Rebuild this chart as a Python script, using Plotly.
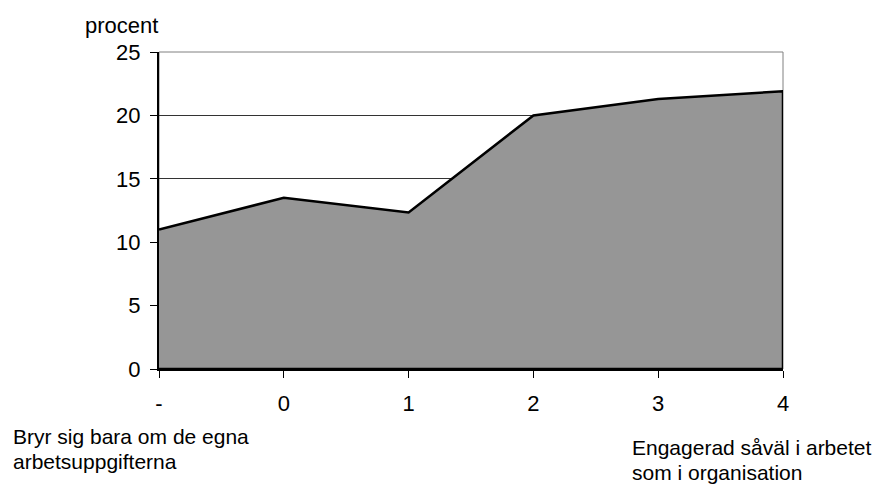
import plotly.graph_objects as go

categories = ["-", "0", "1", "2", "3", "4"]
values = [11.0, 13.5, 12.35, 20.0, 21.3, 21.9]
y_ticks = [0, 5, 10, 15, 20, 25]

FONT = "Liberation Sans, Arial, sans-serif"
FS = 22
FS_NOTE = 21

xs = categories + [categories[-1], categories[0]]
ys = values + [0, 0]

fig = go.Figure()
fig.add_trace(go.Scatter(
    x=xs, y=ys, mode="lines", fill="toself",
    fillcolor="#969696", line=dict(color="black", width=2.5),
    hoverinfo="skip", showlegend=False,
))

fig.update_layout(
    width=875, height=485,
    margin=dict(l=159, r=92, t=52, b=116),
    paper_bgcolor="white", plot_bgcolor="white",
    font=dict(family=FONT, size=FS, color="black"),
    showlegend=False,
    xaxis=dict(
        type="category", categoryorder="array", categoryarray=categories,
        range=[0, len(categories) - 1],
        showgrid=False, zeroline=False,
        showline=True, linecolor="black", linewidth=2,
        ticks="outside", ticklen=7, tickcolor="black", tickwidth=1,
        ticklabelstandoff=7,
        tickfont=dict(family=FONT, size=FS),
    ),
    yaxis=dict(
        range=[0, 25], tickvals=y_ticks,
        showgrid=True, gridcolor="#333333", gridwidth=1,
        zeroline=False,
        showline=True, linecolor="black", linewidth=2,
        ticks="outside", ticklen=7, tickcolor="black", tickwidth=1,
        ticklabelstandoff=5,
        tickfont=dict(family=FONT, size=FS),
    ),
    shapes=[dict(type="rect", xref="paper", yref="paper", x0=0, x1=1, y0=0, y1=1,
                 line=dict(color="#808080", width=1), layer="below")],
    annotations=[
        dict(text="procent", xref="paper", yref="paper", x=0, y=1.0,
             xanchor="left", yanchor="bottom", xshift=-76, yshift=12, showarrow=False,
             font=dict(family=FONT, size=FS)),
        dict(text="Bryr sig bara om de egna", xref="paper", yref="paper",
             x=0, y=0, xshift=-148, yshift=-67, xanchor="left", yanchor="middle",
             showarrow=False, font=dict(family=FONT, size=FS_NOTE)),
        dict(text="arbetsuppgifterna", xref="paper", yref="paper",
             x=0, y=0, xshift=-148, yshift=-92, xanchor="left", yanchor="middle",
             showarrow=False, font=dict(family=FONT, size=FS_NOTE)),
        dict(text="Engagerad såväl i arbetet", xref="paper", yref="paper",
             x=1, y=0, xshift=-153, yshift=-78, xanchor="left", yanchor="middle",
             showarrow=False, font=dict(family=FONT, size=FS_NOTE)),
        dict(text="som i organisation", xref="paper", yref="paper",
             x=1, y=0, xshift=-153, yshift=-103, xanchor="left", yanchor="middle",
             showarrow=False, font=dict(family=FONT, size=FS_NOTE)),
    ],
)

fig.write_html("out.html")
